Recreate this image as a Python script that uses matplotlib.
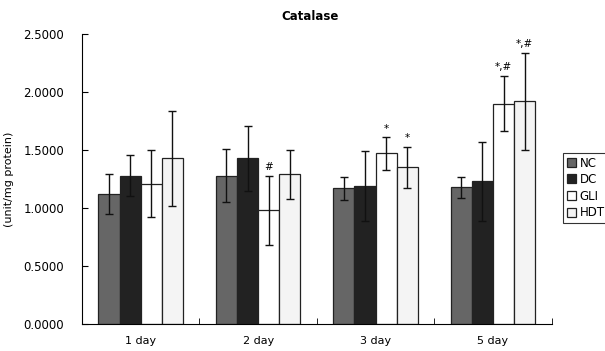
import numpy as np
import matplotlib
matplotlib.use("Agg")
import matplotlib.pyplot as plt

days = ["1 day", "2 day", "3 day", "5 day"]
groups = ["NC", "DC", "GLI", "HDT"]
NC = [1.12, 1.28, 1.17, 1.18]
DC = [1.28, 1.43, 1.19, 1.23]
GLI = [1.21, 0.98, 1.47, 1.90]
HDT = [1.43, 1.29, 1.35, 1.92]
NC_err = [0.17, 0.23, 0.10, 0.09]
DC_err = [0.18, 0.28, 0.30, 0.34]
GLI_err = [0.29, 0.30, 0.14, 0.24]
HDT_err = [0.41, 0.21, 0.18, 0.42]
marks = {("GLI", 1): "#", ("GLI", 2): "*", ("HDT", 2): "*",
         ("GLI", 3): "*,#", ("HDT", 3): "*,#"}

colors = ["#666666", "#222222", "#ffffff", "#f4f4f4"]
plt.rcParams["font.family"] = ["DejaVu Sans"]

fig = plt.figure(figsize=(6.05, 3.51), dpi=100)
ax = fig.add_axes([0.1355, 0.077, 0.9120 - 0.1355, 0.903 - 0.077])

x = np.arange(len(days))
w = 0.18
vals = [NC, DC, GLI, HDT]
errs = [NC_err, DC_err, GLI_err, HDT_err]
for i, (g, v, e, c) in enumerate(zip(groups, vals, errs, colors)):
    pos = x + (i - 1.5) * w
    ax.bar(pos, v, w, color=c, edgecolor="#222222", linewidth=0.9, label=g, zorder=2)
    ax.errorbar(pos, v, yerr=e, fmt="none", ecolor="#111111", elinewidth=1.0,
                capsize=3, capthick=1.0, zorder=3)
    for j in range(len(days)):
        if (g, j) in marks:
            ax.text(pos[j], v[j] + e[j] + 0.03, marks[(g, j)], ha="center",
                    va="bottom", fontsize=7.5)

ax.set_xlim(-0.5, 3.5)
ax.set_ylim(0, 2.5)
ax.set_yticks(np.arange(0, 2.51, 0.5))
ax.set_yticklabels(["%.4f" % t for t in np.arange(0, 2.51, 0.5)], fontsize=8.5)
ax.set_xticks(x)
ax.set_xticklabels(days, fontsize=8)
ax.set_xticks(np.arange(-0.5, 3.6, 1), minor=True)
ax.tick_params(axis="x", which="major", length=0, pad=9)
ax.tick_params(axis="x", which="minor", direction="in", length=4)
ax.tick_params(axis="y", direction="in", length=4, pad=13)
ax.spines["top"].set_visible(False)
ax.spines["right"].set_visible(False)
ax.set_ylabel("(unit/mg protein)", fontsize=8)
ax.yaxis.set_label_coords(-0.145, 0.5)
fig.text(0.512, 0.952, "Catalase", ha="center", va="center", fontsize=8.5, fontweight="bold")

leg = fig.legend(loc="upper left", bbox_to_anchor=(563 / 605, 1 - 153 / 351),
                 fontsize=8.5, frameon=True, fancybox=False, edgecolor="black",
                 handlelength=0.8, handleheight=0.8, handletextpad=0.3,
                 borderpad=0.3, labelspacing=0.3, borderaxespad=0)
leg.get_frame().set_linewidth(0.8)

fig.savefig("out.png", dpi=100)
